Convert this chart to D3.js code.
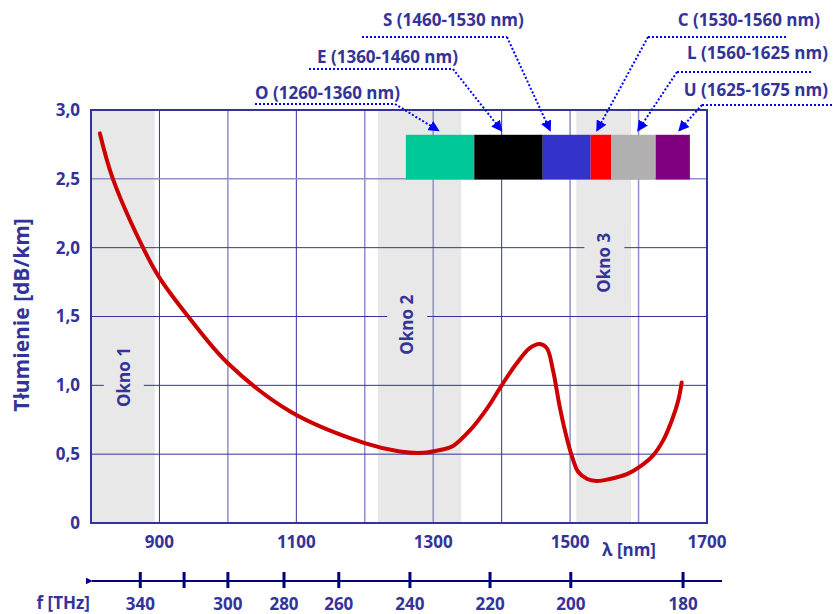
<!DOCTYPE html>
<html>
<head>
<meta charset="utf-8">
<script src="https://cdn.jsdelivr.net/npm/d3@7/dist/d3.min.js"></script>
<style>
  body { margin: 0; background: #fff; }
  svg text { font-family: "Open Sans", "Noto Sans", sans-serif; font-weight: bold; fill: #333399; }
</style>
</head>
<body>
<div id="chart"></div>
<script>
// Attenuation curve (wavelength nm, dB/km)
var curveNm = [813, 832, 876, 899, 942, 1000, 1091, 1200, 1251, 1285, 1310, 1329, 1354, 1379,
  1400, 1422, 1441, 1456, 1466, 1475, 1485, 1495, 1503, 1512, 1525, 1539, 1558, 1583, 1602, 1621, 1636, 1649, 1658, 1663];
var curveDb = [2.83, 2.5, 2.0, 1.79, 1.5, 1.16, 0.81, 0.58, 0.52, 0.51, 0.53, 0.56, 0.675, 0.835,
  1.0, 1.16, 1.27, 1.30, 1.27, 1.11, 0.84, 0.62, 0.48, 0.37, 0.32, 0.305, 0.32, 0.355, 0.41, 0.49, 0.60, 0.75, 0.89, 1.02];

// Y axis ticks
var yTicks = [0, 0.5, 1, 1.5, 2, 2.5, 3];
var yTickLabels = ["0", "0,5", "1,0", "1,5", "2,0", "2,5", "3,0"];

// X grid and labels
var xGrid = [900, 1000, 1100, 1200, 1300, 1400, 1500, 1600];
var xLabels = [900, 1100, 1300, 1500, 1700];

// Transmission windows
var windowNames = ["Okno 1", "Okno 2", "Okno 3"];
var windowFrom = [800, 1219, 1509];
var windowTo = [893, 1341, 1589];

// Bands
var bandNames = ["O", "E", "S", "C", "L", "U"];
var bandFrom = [1260, 1360, 1460, 1530, 1560, 1625];
var bandTo = [1360, 1460, 1530, 1560, 1625, 1675];
var bandColors = ["#00c896", "#000000", "#3333cc", "#ff0000", "#b0b0b0", "#800080"];

// Frequency axis (THz) and where each tick sits in nm
var freqTicks = [340, 320, 300, 280, 260, 240, 220, 200, 180];
var freqTickNm = [872, 936, 1000, 1082, 1162, 1266, 1383, 1501, 1665];
var freqShown = [true, false, true, true, true, true, true, true, true];

var W = 833, H = 614;
var svg = d3.select("#chart").append("svg").attr("width", W).attr("height", H);

var x = d3.scaleLinear().domain([800, 1700]).range([91, 707]);
var y = d3.scaleLinear().domain([0, 3]).range([523, 110]);
var ink = "#333399";
var light = "#8f8fca";

// Windows (grey bands)
windowNames.forEach(function (n, i) {
  svg.append("rect")
    .attr("x", x(windowFrom[i])).attr("y", y(3))
    .attr("width", x(windowTo[i]) - x(windowFrom[i]))
    .attr("height", y(0) - y(3))
    .attr("fill", "#e8e8e8");
});

// Grid lines
var lightX = [1000, 1200, 1300, 1500, 1600];
svg.selectAll(".vgrid").data(xGrid).enter().append("line")
  .attr("x1", function (d) { return x(d); }).attr("x2", function (d) { return x(d); })
  .attr("y1", y(3)).attr("y2", y(0))
  .attr("stroke", function (d) { return lightX.indexOf(d) >= 0 ? light : ink; })
  .attr("stroke-width", function (d) { return lightX.indexOf(d) >= 0 ? 1.5 : 1; });

svg.selectAll(".hgrid").data(yTicks.filter(function (d) { return d > 0 && d < 3; })).enter().append("line")
  .attr("x1", x(800)).attr("x2", x(1700))
  .attr("y1", function (d) { return y(d); }).attr("y2", function (d) { return y(d); })
  .attr("stroke", function (d) { return d === 2.5 ? light : ink; })
  .attr("stroke-width", function (d) { return d === 2.5 ? 1.5 : 1; });

// Band colour bar
bandNames.forEach(function (n, i) {
  svg.append("rect")
    .attr("x", x(bandFrom[i])).attr("y", y(2.82))
    .attr("width", x(bandTo[i]) - x(bandFrom[i]))
    .attr("height", y(2.495) - y(2.82))
    .attr("fill", bandColors[i]);
});

// Frame
svg.append("rect")
  .attr("x", x(800)).attr("y", y(3))
  .attr("width", x(1700) - x(800)).attr("height", y(0) - y(3))
  .attr("fill", "none").attr("stroke", ink).attr("stroke-width", 2);

// Window labels with background
var winLabelNm = [848, 1262, 1550];
var winLabelDb = [1.06, 1.44, 1.89];
windowNames.forEach(function (n, i) {
  var cx = x(winLabelNm[i]), cy = y(winLabelDb[i]);
  svg.append("rect").attr("x", cx - 20).attr("y", cy - 38).attr("width", 40).attr("height", 76).attr("fill", "#e8e8e8");
  svg.append("text")
    .attr("transform", "translate(" + cx + "," + cy + ") rotate(-90)")
    .attr("text-anchor", "middle").attr("dy", "0.35em")
    .style("font-size", "17px")
    .text(n);
});

// Curve
var pts = curveNm.map(function (d, i) { return [d, curveDb[i]]; });
svg.append("path")
  .datum(pts)
  .attr("fill", "none").attr("stroke", "#cc0000").attr("stroke-width", 4)
  .attr("stroke-linecap", "round")
  .attr("d", d3.line().x(function (d) { return x(d[0]); }).y(function (d) { return y(d[1]); }).curve(d3.curveCatmullRom));

// Y tick labels
svg.selectAll(".ylab").data(yTicks).enter().append("text")
  .attr("x", 80).attr("y", function (d) { return y(d); })
  .attr("dy", "0.35em").attr("text-anchor", "end")
  .style("font-size", "17px")
  .text(function (d, i) { return yTickLabels[i]; });

svg.append("text")
  .attr("transform", "translate(22,315) rotate(-90)")
  .attr("text-anchor", "middle").attr("dy", "0.35em")
  .style("font-size", "21px")
  .text("Tłumienie [dB/km]");

// X tick labels
svg.selectAll(".xlab").data(xLabels).enter().append("text")
  .attr("x", function (d) { return x(d); }).attr("y", 542)
  .attr("dy", "0.35em").attr("text-anchor", "middle")
  .style("font-size", "17px")
  .text(function (d) { return d; });

svg.append("text").attr("x", 629).attr("y", 550).attr("dy", "0.35em")
  .attr("text-anchor", "middle").style("font-size", "17px").text("λ [nm]");

// Frequency axis
var defs = svg.append("defs");
defs.append("marker").attr("id", "farrow").attr("viewBox", "0 0 10 10")
  .attr("refX", 1).attr("refY", 5).attr("markerWidth", 7).attr("markerHeight", 7)
  .attr("markerUnits", "userSpaceOnUse").attr("orient", "auto")
  .append("path").attr("d", "M10,0 L0,5 L10,10 z").attr("fill", "#000080");
defs.append("marker").attr("id", "barrow").attr("viewBox", "0 0 10 10")
  .attr("refX", 9).attr("refY", 5).attr("markerWidth", 11).attr("markerHeight", 11)
  .attr("markerUnits", "userSpaceOnUse").attr("orient", "auto")
  .append("path").attr("d", "M0,0 L10,5 L0,10 z").attr("fill", "#0000ff");

var fy = 581;
svg.append("line").attr("x1", x(1722)).attr("x2", 92).attr("y1", fy).attr("y2", fy)
  .attr("stroke", "#000080").attr("stroke-width", 2).attr("marker-end", "url(#farrow)");
svg.selectAll(".ftick").data(freqTickNm).enter().append("line")
  .attr("x1", function (d) { return x(d); }).attr("x2", function (d) { return x(d); })
  .attr("y1", fy - 9).attr("y2", fy + 7)
  .attr("stroke", "#000080").attr("stroke-width", 3);
svg.selectAll(".flab").data(freqTicks).enter().append("text")
  .filter(function (d, i) { return freqShown[i]; })
  .attr("x", function (d) { return x(freqTickNm[freqTicks.indexOf(d)]); }).attr("y", 604)
  .attr("dy", "0.35em").attr("text-anchor", "middle")
  .style("font-size", "17px")
  .text(function (d) { return d; });
svg.append("text").attr("x", 90).attr("y", 603).attr("dy", "0.35em")
  .attr("text-anchor", "end").style("font-size", "17px").text("f [THz]");

// Band callouts: text, dotted underline, dotted arrow to the bar
var callout = [
  { tx: 255, ty: 93, anchor: "start", ux1: 255, ux2: 395, uy: 104, ax: 395, tip: 1308 },
  { tx: 317, ty: 57, anchor: "start", ux1: 309, ux2: 453, uy: 69, ax: 453, tip: 1400 },
  { tx: 383, ty: 20, anchor: "start", ux1: 362, ux2: 507, uy: 37, ax: 507, tip: 1471 },
  { tx: 820, ty: 20, anchor: "end", ux1: 648, ux2: 788, uy: 37, ax: 648, tip: 1539 },
  { tx: 828, ty: 53, anchor: "end", ux1: 677, ux2: 812, uy: 72, ax: 677, tip: 1599 },
  { tx: 828, ty: 90, anchor: "end", ux1: 702, ux2: 833, uy: 105, ax: 702, tip: 1659 }
];
bandNames.forEach(function (n, i) {
  var c = callout[i];
  svg.append("text").attr("x", c.tx).attr("y", c.ty).attr("dy", "0.35em")
    .attr("text-anchor", c.anchor).style("font-size", "17px")
    .text(n + " (" + bandFrom[i] + "-" + bandTo[i] + " nm)");
  svg.append("line").attr("x1", c.ux1).attr("x2", c.ux2).attr("y1", c.uy).attr("y2", c.uy)
    .attr("stroke", "#0000ff").attr("stroke-width", 2).attr("stroke-dasharray", "2,2");
  svg.append("line").attr("x1", c.ax).attr("y1", c.uy).attr("x2", x(c.tip)).attr("y2", y(2.82) - 4)
    .attr("stroke", "#0000ff").attr("stroke-width", 2).attr("stroke-dasharray", "2,2")
    .attr("marker-end", "url(#barrow)");
});
</script>
</body>
</html>
